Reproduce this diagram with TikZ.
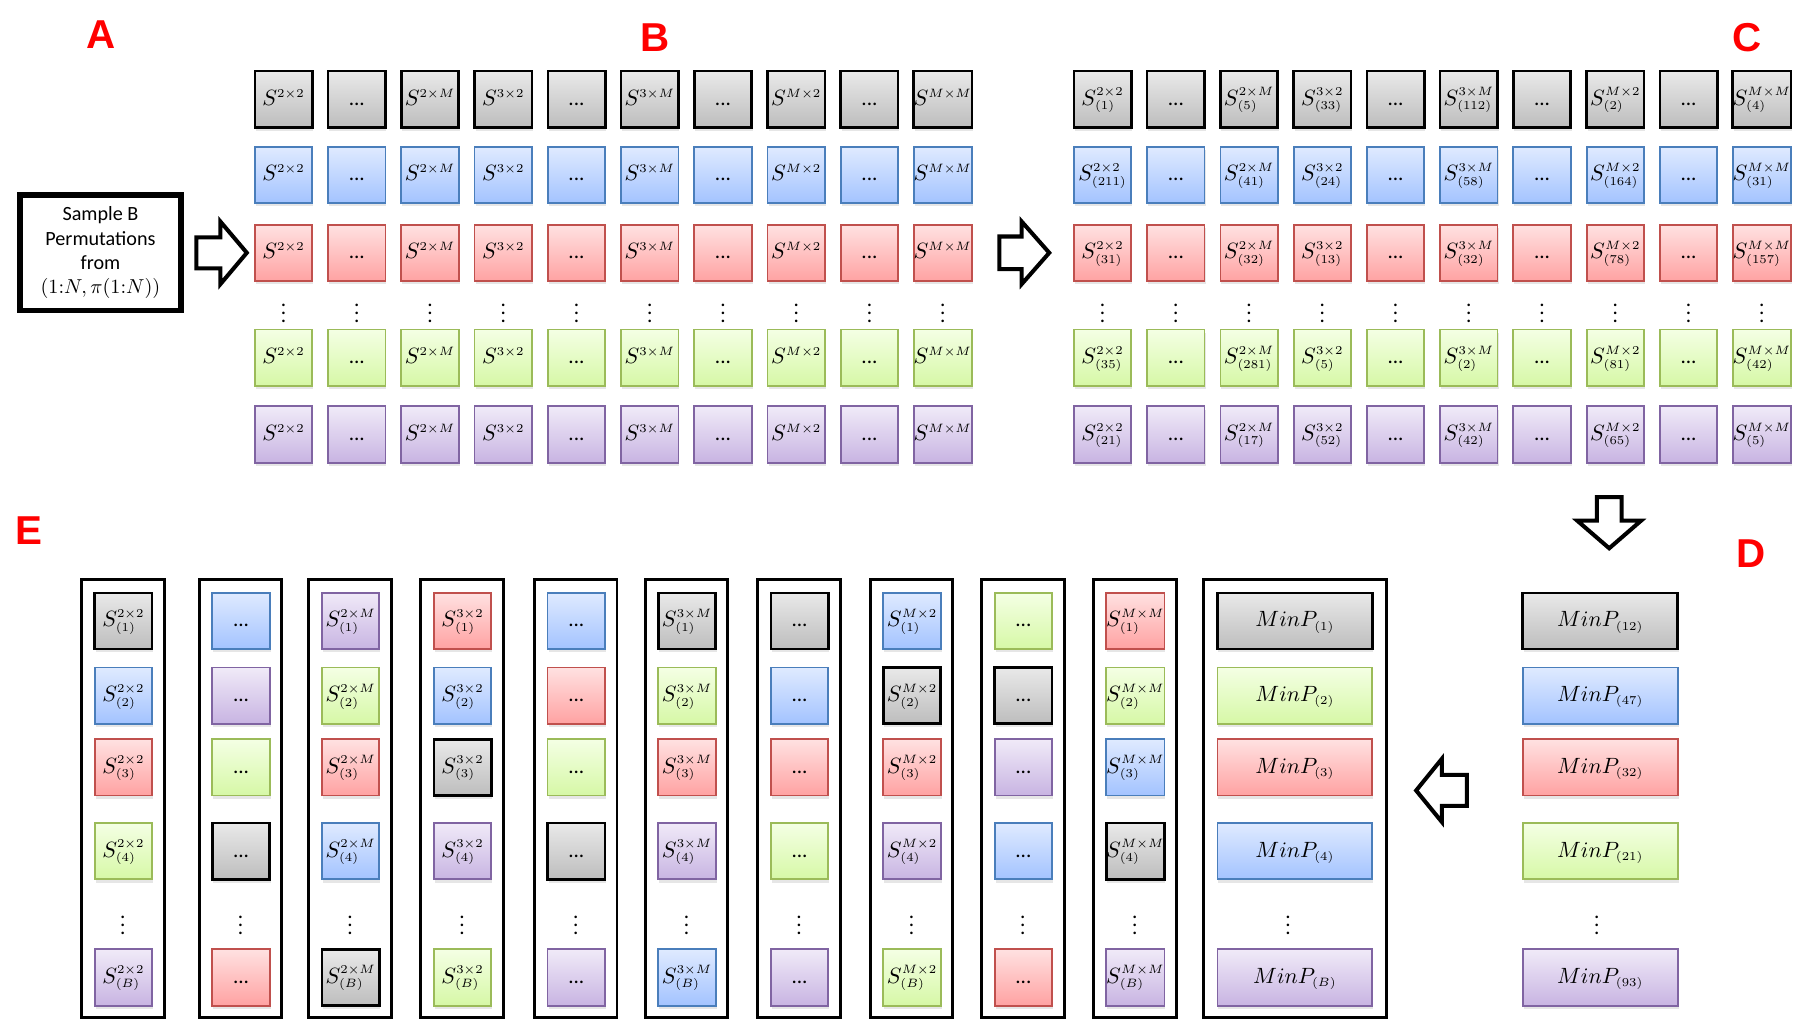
\documentclass[tikz,border=0pt]{standalone}
\usepackage[no-math]{fontspec}
\setmainfont{Carlito}
\newfontfamily\lblfont{Liberation Sans}
\usetikzlibrary{shadows}
\DeclareMathSizes{10.5}{10.5}{6.3}{5}

\definecolor{gryT}{HTML}{E9E9E9}
\definecolor{gryB}{HTML}{BDBDBD}
\definecolor{bluT}{HTML}{DFEAFF}
\definecolor{bluB}{HTML}{A3C3FF}
\definecolor{bluD}{HTML}{4A7EBB}
\definecolor{redT}{HTML}{FFE1E1}
\definecolor{redB}{HTML}{FFA2A2}
\definecolor{redD}{HTML}{C0504D}
\definecolor{grnT}{HTML}{F4FFE4}
\definecolor{grnB}{HTML}{D6F8A6}
\definecolor{grnD}{HTML}{9BBB59}
\definecolor{prpT}{HTML}{F0EAF8}
\definecolor{prpB}{HTML}{C8B4E2}
\definecolor{prpD}{HTML}{8064A2}
\definecolor{lblred}{HTML}{FF0000}

\begin{document}
\begin{tikzpicture}[x=0.2mm, y=-0.2mm,
    cell/.style={minimum width=10mm, minimum height=9.8mm, inner sep=0pt,
      text height=1.6ex, text depth=0.4ex, font=\fontsize{10.5}{12}\selectfont,
      drop shadow={opacity=0.2, shadow xshift=0.5pt, shadow yshift=-1.6pt}},
    wide/.style={minimum width=27mm},
    gry/.style={cell, draw=black, line width=1.3pt, top color=gryT, bottom color=gryB},
    blu/.style={cell, draw=bluD, line width=0.9pt, top color=bluT, bottom color=bluB},
    red/.style={cell, draw=redD, line width=0.9pt, top color=redT, bottom color=redB},
    grn/.style={cell, draw=grnD, line width=0.9pt, top color=grnT, bottom color=grnB},
    prp/.style={cell, draw=prpD, line width=0.9pt, top color=prpT, bottom color=prpB},
    colframe/.style={draw=black, line width=1.4pt, minimum width=14.4mm, minimum height=76.3mm, inner sep=0pt},
    seclabel/.style={font=\lblfont\bfseries\fontsize{20}{24}\selectfont, text=lblred},
    blockarrow/.style={draw=black, line width=2pt, fill=white, line join=miter},
    vdot/.style={font=\fontsize{10.5}{12}\selectfont}
  ]
  \useasboundingbox (0,0) rectangle (1568,894);

  % section letters
  \node[seclabel] (labA) at (88,30) {A};
  \node[seclabel] (labB) at (571,33) {B};
  \node[seclabel] (labC) at (1522,33) {C};
  \node[seclabel] (labD) at (1525,482) {D};
  \node[seclabel] (labE) at (25,462) {E};

  % A
  \node[draw, line width=2.8pt, minimum width=28mm, minimum height=20.1mm, align=center,
    font=\fontsize{10}{12}\selectfont] (sample) at (87.5,220.2)
    {Sample B\\Permutations\\from\\$(1{:}N,\pi(1{:}N))$};

  \draw[blockarrow] (171,206.7) -- (192,206.7) -- (192,193) -- (215,220.2)
    -- (192,247.5) -- (192,233.7) -- (171,233.7) -- cycle;

  % B
  \foreach \r/\sty/\y in {1/gry/86.5, 2/blu/152.5, 3/red/220.5, 4/grn/311.5, 5/prp/378.5} {
    \foreach \i/\sp in {0/2\times2, 2/2\times M, 3/3\times2, 5/3\times M, 7/M\times2, 9/M\times M}
      \node[\sty] (b\r-\i) at ({247+63.8*\i},\y) {$S^{\sp}$};
    \foreach \i in {1,4,6,8}
      \node[\sty] (b\r-\i) at ({247+63.8*\i},\y) {...};
  }
  \foreach \i in {0,...,9}
    \node[vdot] (bdots-\i) at ({247+63.8*\i},268) {$\vdots$};

  \draw[blockarrow] (870.5,206) -- (890,206) -- (890,193) -- (914,220.2)
    -- (890,247.5) -- (890,234.5) -- (870.5,234.5) -- cycle;

  % C
  \foreach \i/\sp/\sb in {0/2\times2/1, 2/2\times M/5, 3/3\times2/33, 5/3\times M/112, 7/M\times2/2, 9/M\times M/4}
    \node[gry] (c1-\i) at ({960.5+63.8*\i},86.5) {$S^{\sp}_{(\sb)}$};
  \foreach \i/\sp/\sb in {0/2\times2/211, 2/2\times M/41, 3/3\times2/24, 5/3\times M/58, 7/M\times2/164, 9/M\times M/31}
    \node[blu] (c2-\i) at ({960.5+63.8*\i},152.5) {$S^{\sp}_{(\sb)}$};
  \foreach \i/\sp/\sb in {0/2\times2/31, 2/2\times M/32, 3/3\times2/13, 5/3\times M/32, 7/M\times2/78, 9/M\times M/157}
    \node[red] (c3-\i) at ({960.5+63.8*\i},220.5) {$S^{\sp}_{(\sb)}$};
  \foreach \i/\sp/\sb in {0/2\times2/35, 2/2\times M/281, 3/3\times2/5, 5/3\times M/2, 7/M\times2/81, 9/M\times M/42}
    \node[grn] (c4-\i) at ({960.5+63.8*\i},311.5) {$S^{\sp}_{(\sb)}$};
  \foreach \i/\sp/\sb in {0/2\times2/21, 2/2\times M/17, 3/3\times2/52, 5/3\times M/42, 7/M\times2/65, 9/M\times M/5}
    \node[prp] (c5-\i) at ({960.5+63.8*\i},378.5) {$S^{\sp}_{(\sb)}$};
  \foreach \r/\sty/\y in {1/gry/86.5, 2/blu/152.5, 3/red/220.5, 4/grn/311.5, 5/prp/378.5}
    \foreach \i in {1,4,6,8}
      \node[\sty] (c\r-\i) at ({960.5+63.8*\i},\y) {...};
  \foreach \i in {0,...,9}
    \node[vdot] (cdots-\i) at ({960.5+63.8*\i},268) {$\vdots$};

  \draw[blockarrow] (1391,433) -- (1412.6,433) -- (1412.6,453.6) -- (1429.5,453.6)
    -- (1401.8,477.6) -- (1374,453.6) -- (1391,453.6) -- cycle;

  % D
  \foreach \sty/\y/\sb [count=\k] in {gry/541/12, blu/606/47, red/668.5/32, grn/741.5/21, prp/851.5/93}
    \node[\sty, wide] (d\k) at (1394,\y) {$MinP_{(\sb)}$};
  \node[vdot] (ddots) at (1391,801) {$\vdots$};

  \draw[blockarrow] (1277.7,675) -- (1256,675) -- (1256,661) -- (1233.6,688.6)
    -- (1256,716) -- (1256,702) -- (1277.7,702) -- cycle;

  % E
  \node[colframe, minimum width=31.9mm] (minframe) at (1128.25,695.75) {};
  \foreach \sty/\y/\sb [count=\k] in {gry/541/1, grn/606/2, red/668.5/3, blu/741.5/4, prp/851.5/B}
    \node[\sty, wide] (m\k) at (1128,\y) {$MinP_{(\sb)}$};
  \node[vdot] (mdots) at (1122,801) {$\vdots$};

  \foreach \x/\sp/\ca/\cb/\cc/\cd/\ce [count=\k] in {107/2\times2/gry/blu/red/grn/prp,
      305/2\times M/prp/grn/red/blu/gry, 402.5/3\times2/red/blu/gry/prp/grn,
      598/3\times M/gry/grn/red/prp/blu, 794/M\times2/blu/gry/red/prp/grn,
      988.5/M\times M/red/grn/blu/gry/prp} {
    \node[colframe] (sframe\k) at (\x,695.75) {};
    \node[\ca] (es\k-1) at (\x+0.5,541) {$S^{\sp}_{(1)}$};
    \node[\cb] (es\k-2) at (\x+0.5,606) {$S^{\sp}_{(2)}$};
    \node[\cc] (es\k-3) at (\x+0.5,668.5) {$S^{\sp}_{(3)}$};
    \node[\cd] (es\k-4) at (\x+0.5,741.5) {$S^{\sp}_{(4)}$};
    \node[vdot] (es\k-dots) at (\x,801) {$\vdots$};
    \node[\ce] (es\k-B) at (\x+0.5,851.5) {$S^{\sp}_{(B)}$};
  }
  \foreach \x/\ca/\cb/\cc/\cd/\ce [count=\k] in {209.5/blu/prp/grn/gry/red,
      501.5/blu/red/grn/gry/prp, 696/gry/blu/red/grn/prp, 891/grn/gry/prp/blu/red} {
    \node[colframe] (dframe\k) at (\x,695.75) {};
    \node[\ca] (ed\k-1) at (\x+0.5,541) {...};
    \node[\cb] (ed\k-2) at (\x+0.5,606) {...};
    \node[\cc] (ed\k-3) at (\x+0.5,668.5) {...};
    \node[\cd] (ed\k-4) at (\x+0.5,741.5) {...};
    \node[vdot] (ed\k-dots) at (\x,801) {$\vdots$};
    \node[\ce] (ed\k-B) at (\x+0.5,851.5) {...};
  }
\end{tikzpicture}
\end{document}
